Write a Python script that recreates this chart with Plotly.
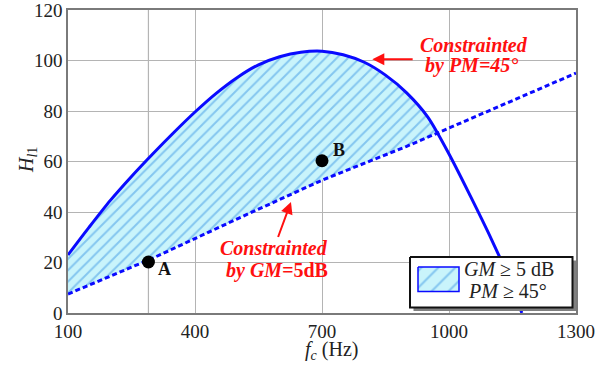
import numpy as np
import plotly.graph_objects as go

# Upper boundary: H_l1 limit set by the phase margin (PM = 45°)
pm_freq = [100, 150, 200, 250, 300, 350, 400, 450, 500, 550, 600, 650, 700, 750,
           800, 850, 900, 950, 1000, 1050, 1100, 1150, 1172]
pm_h = [23, 34, 44.6, 54.1, 63, 71.5, 79.6, 87, 93.3, 98.3, 101.5, 103.3, 103.7,
        102.3, 99.3, 94.2, 87.2, 77.6, 63, 46.5, 29.3, 10.5, 0]

# Lower boundary: H_l1 limit set by the gain margin (GM = 5 dB)
gm_freq = [100, 300, 500, 700, 900, 1100, 1300]
gm_h = [7.5, 21.7, 37.3, 52.6, 66, 80.5, 95]

# Operating points
pt_names = ["A", "B"]
pt_freq = [290, 700]
pt_h = [20.2, 60.3]

x_ticks = [100, 400, 700, 1000, 1300]
y_ticks = [0, 20, 40, 60, 80, 100, 120]

BLUE = "#0a0aff"
RED = "#ff1010"
SERIF = "Liberation Serif"
FILL_BG = "#c9f4fb"
FILL_FG = "#3f97e4"
SMOOTH = 0.8

# Feasible region: between the two boundaries up to where they cross
grid = np.linspace(min(pm_freq), max(pm_freq), 4000)
up = np.interp(grid, pm_freq, pm_h)
lo = np.interp(grid, gm_freq, gm_h)
cross = float(grid[np.argmax(up < lo)])
h_cross = float(np.interp(cross, gm_freq, gm_h))
lo_x = [f for f in gm_freq if f < cross] + [cross]
lo_y = [h for f, h in zip(gm_freq, gm_h) if f < cross] + [h_cross]
up_x = [f for f in pm_freq if f < cross] + [cross]
up_y = [h for f, h in zip(pm_freq, pm_h) if f < cross] + [h_cross]

fig = go.Figure()
fig.add_trace(go.Scatter(x=lo_x, y=lo_y, mode="lines", line=dict(width=0),
                         hoverinfo="skip", showlegend=False))
fig.add_trace(go.Scatter(x=up_x, y=up_y, mode="lines", fill="tonexty",
                         line=dict(width=0, shape="spline", smoothing=SMOOTH),
                         fillcolor=FILL_BG,
                         fillpattern=dict(shape="/", bgcolor=FILL_BG, fgcolor=FILL_FG,
                                          size=8, solidity=0.25),
                         hoverinfo="skip", showlegend=False))
fig.add_trace(go.Scatter(x=pm_freq, y=pm_h, mode="lines",
                         line=dict(color=BLUE, width=3, shape="spline",
                                   smoothing=SMOOTH),
                         showlegend=False))
fig.add_trace(go.Scatter(x=gm_freq, y=gm_h, mode="lines",
                         line=dict(color=BLUE, width=3, dash="5px,3px"),
                         showlegend=False))
fig.add_trace(go.Scatter(x=pt_freq, y=pt_h, mode="markers",
                         marker=dict(color="black", size=13), showlegend=False))

# Plot-area pixel helpers (plot area spans x 68..576, y 10..313)
L, R, T, B = 68, 576, 10, 313
W, H = 606, 365


def px(x):
    return (x - L) / (R - L)


def py(y):
    return (B - y) / (B - T)


# Legend drawn on an overlay axis in plot-area pixel units, above the curves
box = dict(x0=410, x1=572.5, y0=257, y1=307.5)
sh = 3.5
fig.add_trace(go.Scatter(
    x=[box["x0"] + sh, box["x1"] + sh, box["x1"] + sh, box["x0"] + sh],
    y=[box["y0"] + sh, box["y0"] + sh, box["y1"] + sh, box["y1"] + sh],
    fill="toself", mode="none", fillcolor="#808080",
    xaxis="x2", yaxis="y2", hoverinfo="skip", showlegend=False))
fig.add_trace(go.Scatter(
    x=[box["x0"], box["x1"], box["x1"], box["x0"], box["x0"]],
    y=[box["y0"], box["y0"], box["y1"], box["y1"], box["y0"]],
    fill="toself", mode="lines", fillcolor="white",
    line=dict(color="#111", width=2),
    xaxis="x2", yaxis="y2", hoverinfo="skip", showlegend=False))
sw = dict(x0=418, x1=459, y0=267, y1=291.5)
fig.add_trace(go.Scatter(
    x=[sw["x0"], sw["x1"], sw["x1"], sw["x0"], sw["x0"]],
    y=[sw["y0"], sw["y0"], sw["y1"], sw["y1"], sw["y0"]],
    fill="toself", mode="lines", fillcolor=FILL_BG,
    fillpattern=dict(shape="/", bgcolor=FILL_BG, fgcolor=FILL_FG,
                     size=12, solidity=0.17),
    line=dict(color=BLUE, width=1.5),
    xaxis="x2", yaxis="y2", hoverinfo="skip", showlegend=False))

ann = []


def text(x, y, s, size=20, color="#222", xanchor="center", angle=0):
    ann.append(dict(x=px(x), y=py(y), xref="paper", yref="paper", text=s,
                    showarrow=False, xanchor=xanchor, yanchor="middle",
                    textangle=angle,
                    font=dict(family=SERIF, size=size, color=color)))


# Constraint labels
text(474, 45, "<b><i>Constrainted</i></b>", 20, RED)
text(471.5, 65, "<b><i>by PM=45°</i></b>", 20, RED)
text(274, 248, "<b><i>Constrainted</i></b>", 20, RED)
text(277, 270, "<b><i>by GM=</i>5dB</b>", 20, RED)

# Arrows pointing at each boundary
ann.append(dict(x=818.8, y=100.5, ax=917.7, ay=100.5, xref="x", yref="y",
                axref="x", ayref="y", showarrow=True, arrowhead=2,
                arrowsize=1.2, arrowwidth=2, arrowcolor=RED, text=""))
ann.append(dict(x=626.7, y=44, ax=595, ay=29.5, xref="x", yref="y",
                axref="x", ayref="y", showarrow=True, arrowhead=2,
                arrowsize=1.2, arrowwidth=2, arrowcolor=RED, text=""))

# Point labels
for name, f, h, dx, dy in zip(pt_names, pt_freq, pt_h, [8, 9], [7, -11]):
    ann.append(dict(x=f, y=h, xref="x", yref="y", text=f"<b>{name}</b>",
                    showarrow=False, xanchor="left", yanchor="middle",
                    xshift=dx, yshift=-dy,
                    font=dict(family=SERIF, size=18, color="#111")))

# Legend text
text(462, 268.5, "<i>GM</i> ≥ 5 dB", 20, "#222", "left")
text(466, 290.5, "<i>PM</i> ≥ 45°", 20, "#222", "left")

# Axis titles
text(331, 350, "<i>f<sub>c</sub></i> (Hz)", 20)
text(27, 160, "<i>H<sub>l</sub></i><sub>1</sub>", 20, angle=-90)

axis_common = dict(showgrid=True, gridcolor="#b4b4b4", gridwidth=1.2,
                   zeroline=False, showline=True, linecolor="#7a7a7a",
                   linewidth=1.6, mirror=True, ticks="", automargin=False,
                   ticklabeloverflow="allow",
                   tickfont=dict(family=SERIF, size=19, color="#222"))

fig.update_layout(
    width=W, height=H,
    margin=dict(l=L, r=W - R, t=T, b=H - B, autoexpand=False),
    paper_bgcolor="white", plot_bgcolor="white",
    annotations=ann,
    shapes=[dict(type="line", xref="x", yref="paper", x0=pt_freq[0],
                 x1=pt_freq[0], y0=0, y1=1, layer="below",
                 line=dict(color="#b4b4b4", width=1.2))],
    xaxis=dict(range=[100, 1300], tickvals=x_ticks, **axis_common),
    yaxis=dict(range=[0, 120], tickvals=y_ticks, **axis_common),
    xaxis2=dict(overlaying="x", range=[L, R], visible=False, fixedrange=True),
    yaxis2=dict(overlaying="y", range=[B, T], visible=False, fixedrange=True),
)

fig.write_html("out.html")
